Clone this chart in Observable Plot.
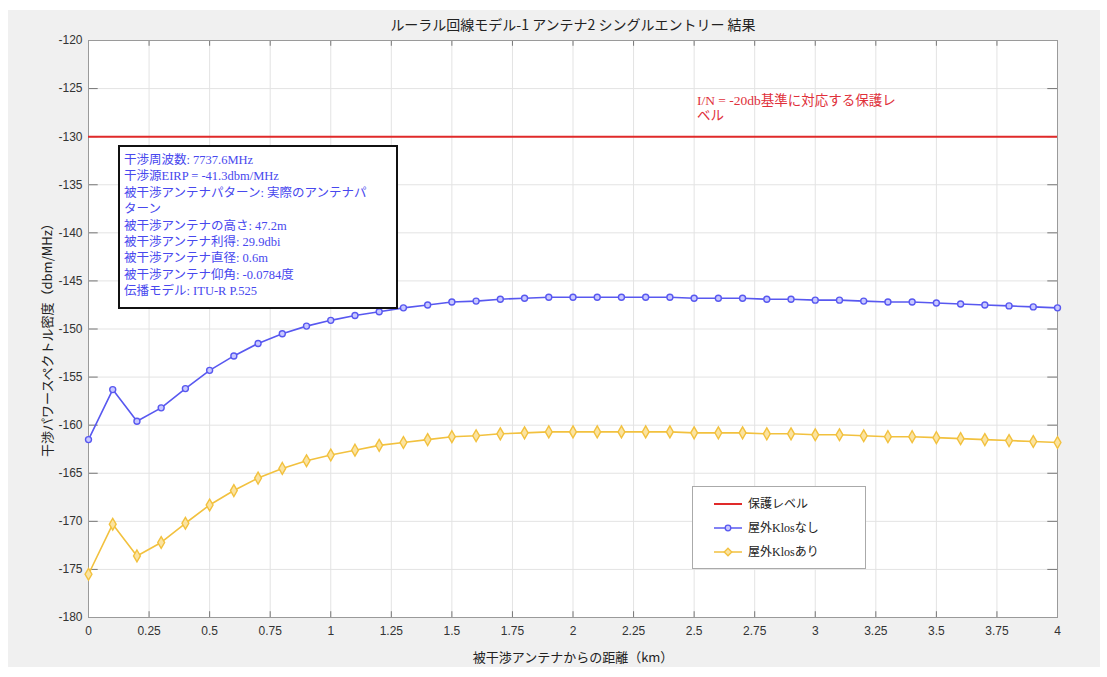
<!DOCTYPE html>
<html>
<head>
<meta charset="utf-8">
<script src="https://cdn.jsdelivr.net/npm/d3@7"></script>
<script src="https://cdn.jsdelivr.net/npm/@observablehq/plot@0.6"></script>
<style>
  html, body { margin: 0; padding: 0; background: #ffffff; }
  #page { position: relative; width: 1107px; height: 677px; overflow: hidden; }
  #chart { position: absolute; left: 8px; top: 10px; }
  .serif { font-family: "Liberation Serif", "Noto Sans CJK JP", serif; }
  #infobox {
    position: absolute; left: 118px; top: 145px; width: 272px; height: 155px;
    border: 2px solid #111; background: #fff; color: #4848ee;
    font-size: 12.5px; line-height: 16.4px; padding: 5px 0 0 4px; box-sizing: content-box;
    white-space: nowrap;
  }
  #redtext {
    position: absolute; left: 697px; top: 93px; color: #e0303a;
    font-size: 13.5px; line-height: 15px; white-space: nowrap;
  }
  #legend {
    position: absolute; left: 692px; top: 486px; width: 172px; height: 81px;
    border: 1px solid #aaa; background: #fff; font-size: 12px; color: #222;
  }
  .lg { position: absolute; left: 0; height: 16px; width: 170px; }
  .lg svg { position: absolute; left: 21px; top: 0; }
  .lg span { position: absolute; left: 55px; top: 0; line-height: 16px; white-space: nowrap; }
</style>
</head>
<body>
<div id="page">
  <div id="chart"></div>
  <div id="redtext" class="serif">I/N = -20db基準に対応する保護レ<br>ベル</div>
  <div id="infobox" class="serif"></div>
  <div id="legend" class="serif"></div>
</div>
<script>
// ---- data ----
const distanceKm = [0,0.1,0.2,0.3,0.4,0.5,0.6,0.7,0.8,0.9,1.0,1.1,1.2,1.3,1.4,1.5,1.6,1.7,1.8,1.9,2.0,
  2.1,2.2,2.3,2.4,2.5,2.6,2.7,2.8,2.9,3.0,3.1,3.2,3.3,3.4,3.5,3.6,3.7,3.8,3.9,4.0];
const noKlos = [-161.5,-156.3,-159.6,-158.2,-156.2,-154.3,-152.8,-151.5,-150.5,-149.7,-149.1,
  -148.6,-148.2,-147.8,-147.5,-147.2,-147.1,-146.9,-146.8,-146.7,-146.7,
  -146.7,-146.7,-146.7,-146.7,-146.8,-146.8,-146.8,-146.9,-146.9,-147.0,
  -147.0,-147.1,-147.2,-147.2,-147.3,-147.4,-147.5,-147.6,-147.7,-147.8];
const withKlos = [-175.5,-170.3,-173.6,-172.2,-170.2,-168.3,-166.8,-165.5,-164.5,-163.7,-163.1,
  -162.6,-162.1,-161.8,-161.5,-161.2,-161.1,-160.9,-160.8,-160.7,-160.7,
  -160.7,-160.7,-160.7,-160.7,-160.8,-160.8,-160.8,-160.9,-160.9,-161.0,
  -161.0,-161.1,-161.2,-161.2,-161.3,-161.4,-161.5,-161.6,-161.7,-161.8];
const protectionLevel = -130;
const xTicks = [0,0.25,0.5,0.75,1,1.25,1.5,1.75,2,2.25,2.5,2.75,3,3.25,3.5,3.75,4];
const yTicks = [-180,-175,-170,-165,-160,-155,-150,-145,-140,-135,-130,-125,-120];
const titleText = "ルーラル回線モデル-1 アンテナ2 シングルエントリー 結果";
const xLabel = "被干渉アンテナからの距離（km）";
const yLabel = "干渉パワースペクトル密度（dbm/MHz）";
const infoLines = [
  "干渉周波数: 7737.6MHz",
  "干渉源EIRP = -41.3dbm/MHz",
  "被干渉アンテナパターン: 実際のアンテナパ",
  "ターン",
  "被干渉アンテナの高さ: 47.2m",
  "被干渉アンテナ利得: 29.9dbi",
  "被干渉アンテナ直径: 0.6m",
  "被干渉アンテナ仰角: -0.0784度",
  "伝播モデル: ITU-R P.525"
];
const legendNames = ["保護レベル", "屋外Klosなし", "屋外Klosあり"];

const RED = "#e02a2a", BLUE = "#5858f0", YEL = "#f2c13e";
const blueData = distanceKm.map((d, i) => ({d, v: noKlos[i]}));
const yelData = distanceKm.map((d, i) => ({d, v: withKlos[i]}));

const xMin = d3.min(xTicks), xMax = d3.max(xTicks);
const yMin = d3.min(yTicks), yMax = d3.max(yTicks);
const tickLenX = (xMax - xMin) * 0.01, tickLenY = (yMax - yMin) * 0.01;

const chart = Plot.plot({
  width: 1092, height: 657,
  marginLeft: 80, marginRight: 43, marginTop: 30, marginBottom: 50,
  style: {background: "#f0f0f0", fontFamily: "'Liberation Sans', Arial, sans-serif", fontSize: "12px", color: "#333"},
  x: {domain: [xMin, xMax]},
  y: {domain: [yMin, yMax]},
  marks: [
    Plot.frame({fill: "white", stroke: null}),
    Plot.gridX(xTicks, {stroke: "#e3e3e3", strokeOpacity: 1}),
    Plot.gridY(yTicks, {stroke: "#e3e3e3", strokeOpacity: 1}),
    // inward tick marks (MATLAB style) on all four sides
    Plot.ruleX(xTicks, {y1: yMin, y2: yMin + tickLenY, stroke: "#777"}),
    Plot.ruleX(xTicks, {y1: yMax, y2: yMax - tickLenY, stroke: "#777"}),
    Plot.ruleY(yTicks, {x1: xMin, x2: xMin + tickLenX, stroke: "#777"}),
    Plot.ruleY(yTicks, {x1: xMax, x2: xMax - tickLenX, stroke: "#777"}),
    Plot.frame({stroke: "#9a9a9a"}),
    Plot.axisX(xTicks, {tickSize: 0, tickPadding: 9, tickFormat: d => String(d), label: null, fill: "#333"}),
    Plot.axisY(yTicks, {tickSize: 0, tickPadding: 6, tickFormat: d => String(d), label: null, fill: "#333"}),
    Plot.ruleY([protectionLevel], {stroke: RED, strokeWidth: 2}),
    Plot.line(blueData, {x: "d", y: "v", stroke: BLUE, strokeWidth: 1.6}),
    Plot.dot(blueData, {x: "d", y: "v", symbol: "circle", r: 3, stroke: BLUE, strokeWidth: 1.4, fill: "#c8c8ff"}),
    Plot.line(yelData, {x: "d", y: "v", stroke: YEL, strokeWidth: 1.6}),
    Plot.dot(yelData, {x: "d", y: "v", symbol: "diamond", r: 3.6, stroke: YEL, strokeWidth: 1.4, fill: "#fbe3a0"}),
    Plot.text([titleText], {frameAnchor: "top", dy: -20, fontSize: 14, fill: "#222",
      fontFamily: "'Noto Sans CJK JP', sans-serif"}),
    Plot.text([xLabel], {frameAnchor: "bottom", dy: 44, fontSize: 13, fill: "#222",
      fontFamily: "'Noto Sans CJK JP', sans-serif"}),
    Plot.text([yLabel], {frameAnchor: "left", dx: -41, dy: 8, rotate: -90, textAnchor: "middle", fontSize: 13, fill: "#222",
      fontFamily: "'Noto Sans CJK JP', sans-serif"})
  ]
});
document.getElementById("chart").appendChild(chart);

// info box
document.getElementById("infobox").innerHTML = infoLines.map(s => `<div>${s}</div>`).join("");

// legend
const legendStyles = [
  {stroke: RED, marker: null},
  {stroke: BLUE, marker: "circle"},
  {stroke: YEL, marker: "diamond"}
];
const legendTops = [9, 33, 57];
document.getElementById("legend").innerHTML = legendNames.map((name, i) => {
  const s = legendStyles[i];
  let m = "";
  if (s.marker === "circle") m = `<circle cx="14" cy="8" r="2.8" fill="#c8c8ff" stroke="${s.stroke}" stroke-width="1.3"/>`;
  if (s.marker === "diamond") m = `<path d="M14 4.2 L17.8 8 L14 11.8 L10.2 8 Z" fill="#fbe3a0" stroke="${s.stroke}" stroke-width="1.3"/>`;
  return `<div class="lg" style="top:${legendTops[i]}px"><svg width="28" height="16"><line x1="0" x2="28" y1="8" y2="8" stroke="${s.stroke}" stroke-width="${i === 0 ? 2 : 1.5}"/>${m}</svg><span>${name}</span></div>`;
}).join("");
</script>
</body>
</html>
